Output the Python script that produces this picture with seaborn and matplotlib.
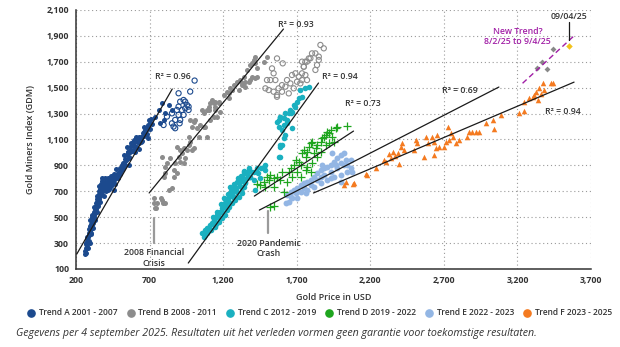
import matplotlib
matplotlib.use("Agg")
import matplotlib.pyplot as plt
import seaborn as sns
from matplotlib.lines import Line2D
from matplotlib.ticker import FuncFormatter

# ---- data: gold price (USD) vs. GDM index ----
trend_a_x = [258, 262, 265, 268, 270, 272, 275, 278, 280, 283, 285, 288, 290, 293, 295, 298, 300, 302, 305, 308,
             310, 312, 315, 318, 320, 322, 325, 328, 330, 333, 335, 338, 340, 343, 345, 348, 350, 353, 355, 358,
             360, 363, 365, 368, 370, 372, 375, 378, 380, 385, 390, 395, 400, 410, 420, 430, 440, 450, 460, 470,
             480, 490, 500, 505, 510, 520, 530, 540, 545, 550, 560, 570, 575, 580, 590, 600, 610, 620, 630, 640,
             650, 655, 660, 670, 680, 690, 700, 710, 690, 600, 560, 520, 470, 440, 410, 416, 427, 450, 472, 484,
             495, 540, 563, 552, 586, 609, 620, 643, 665, 677, 688, 699, 631, 597, 575, 529, 461,
             265, 272, 280, 285, 292, 298, 305, 310, 318, 325, 332, 340, 345, 352, 358, 365, 372, 380, 388, 395,
             405, 415, 425, 435, 445, 455, 465, 485, 500, 515, 525, 535, 548, 565, 585, 605, 625, 645, 665, 685,
             705, 715,
             738, 761, 784, 795, 829, 852, 772, 806]
trend_a_y = [215, 240, 260, 225, 290, 310, 270, 330, 300, 350, 380, 320, 360, 410, 390, 430, 370, 450, 420, 470,
             440, 500, 480, 455, 520, 540, 500, 560, 530, 580, 610, 560, 600, 640, 620, 590, 660, 700, 640, 680,
             720, 660, 700, 740, 690, 760, 720, 780, 740, 700, 760, 730, 770, 750, 780, 760, 790, 800, 790, 810,
             830, 850, 880, 860, 900, 920, 950, 940, 980, 1000, 960, 1020, 1050, 1010, 1060, 1080, 1040, 1100, 1070, 1120,
             1090, 1150, 1130, 1170, 1140, 1190, 1230, 1260, 1110, 1000, 900, 880, 870, 740, 720, 710, 748, 787, 800, 813,
             825, 941, 967, 1005, 1018, 1044, 1083, 1095, 1160, 1186, 1211, 1250, 1121, 1095, 1070, 916, 710,
             300, 350, 260, 410, 300, 480, 380, 520, 420, 580, 480, 660, 540, 600, 740, 620, 680, 800, 660, 800,
             700, 800, 720, 820, 760, 830, 760, 800, 830, 870, 980, 900, 1040, 1000, 1080, 1120, 1030, 1080, 1200, 1180,
             1180, 1220,
             1277, 1328, 1380, 1251, 1367, 1328, 1225, 1302]

trend_a2_x = [795, 818, 852, 863, 874, 874, 886, 897, 897, 908, 920, 931, 931, 942, 954, 965, 965, 897, 976,
              852, 908, 942, 1006, 904]
trend_a2_y = [1212, 1277, 1302, 1200, 1187, 1251, 1328, 1290, 1354, 1392, 1328, 1405, 1290, 1341, 1367, 1328, 1354,
              1457, 1470, 1225, 1251, 1392, 1555, 1225]

trend_b_x = [738, 750, 784, 806, 727, 733, 745, 790, 779,
             829, 852, 795, 806, 818, 840, 863, 874, 897, 908, 920, 931, 942, 931, 886, 954, 976, 988, 965, 988,
             999, 1011, 976, 1022, 1056, 1067, 1090, 1101, 1113, 1124, 1135, 1147, 1170, 1181, 1158, 1113, 1147,
             1204, 1226, 1249, 1272, 1294, 1317, 1328, 1340, 1362, 1385, 1408, 1419, 1431, 1396, 1374, 1419, 1351,
             1238, 1260, 1045, 1067, 908, 784, 806, 863, 886, 965, 1033, 999,
             1419, 1396, 1430, 1385, 1350, 1328, 1305, 1260, 1237, 1169, 1146, 1101, 1135, 1078, 1090, 1495, 1480]
trend_b_y = [569, 608, 633, 608, 646, 607, 568, 607, 645,
             711, 723, 813, 891, 916, 955, 865, 916, 968, 929, 994, 916, 955, 1032, 1045, 1019, 1084, 1019, 1122, 1200,
             1238, 1251, 1251, 1187, 1328, 1302, 1328, 1354, 1380, 1405, 1380, 1392, 1392, 1315, 1277, 1251, 1328,
             1444, 1470, 1495, 1521, 1547, 1560, 1521, 1585, 1637, 1675, 1714, 1688, 1650, 1585, 1547, 1573, 1547,
             1418, 1482, 1212, 1200, 1019, 968, 839, 813, 839, 1058, 1122, 1032,
             1739, 1688, 1585, 1559, 1508, 1533, 1482, 1482, 1456, 1379, 1353, 1327, 1276, 1199, 1122, 1740, 1700]

trend_b2_x = [1566, 1605, 1532, 1543, 1498, 1521, 1555, 1487, 1509, 1543, 1566, 1600, 1623, 1634, 1657, 1668,
              1691, 1714, 1736, 1748, 1759, 1782, 1804, 1702, 1680, 1646, 1600, 1725, 1770, 1566, 1577, 1736,
              1861, 1884, 1827, 1850, 1838, 1827, 1850, 1748, 1770, 1793, 1759, 1736]
trend_b2_y = [1726, 1688, 1649, 1611, 1559, 1559, 1559, 1495, 1482, 1469, 1443, 1469, 1508, 1559, 1533, 1598,
              1611, 1585, 1611, 1662, 1701, 1726, 1765, 1546, 1495, 1456, 1520, 1533, 1559, 1430, 1495, 1701,
              1830, 1804, 1765, 1714, 1675, 1637, 1740, 1662, 1701, 1727, 1598, 1559]

trend_c_x = [1055, 1078, 1101, 1067, 1124, 1135, 1146, 1169, 1180, 1192, 1203, 1214, 1226, 1237, 1248, 1260,
             1271, 1282, 1305, 1316, 1328, 1350, 1373, 1407, 1430, 1475, 1487, 1226, 1237, 1260, 1282, 1305,
             1328, 1339, 1350, 1146, 1169, 1192, 1214, 1112, 1089, 1158, 1203, 1248, 1294, 1362, 1385, 1271, 1294,
             1340, 1374, 1408, 1419, 1385, 1453, 1487, 1351, 1328,
             1075, 1090, 1110, 1120, 1130, 1150, 1160, 1175, 1185, 1195, 1210, 1220, 1230, 1240, 1255, 1265, 1275,
             1290, 1300, 1315, 1320, 1335, 1345, 1360, 1395, 1440, 1460,
             1578, 1589, 1600, 1612, 1578, 1589, 1612, 1623, 1646, 1657, 1668, 1680, 1691, 1634, 1612, 1600, 1702,
             1714, 1736, 1725, 1759, 1782, 1578, 1566, 1623, 1589, 1658, 1635, 1669, 1589, 1589]
trend_c_y = [375, 401, 414, 350, 453, 478, 491, 530, 543, 568, 581, 607, 633, 659, 671, 697,
             710, 736, 761, 787, 813, 839, 864, 852, 877, 890, 864, 556, 581, 607, 633, 659,
             684, 736, 774, 427, 466, 491, 517, 401, 375, 543, 646, 736, 774, 800, 813, 646, 697,
             851, 877, 787, 709, 812, 800, 902, 761, 722,
             360, 420, 440, 400, 500, 450, 520, 500, 600, 540, 640, 580, 680, 620, 700, 660, 760,
             720, 800, 740, 820, 780, 860, 830, 850, 840, 880,
             967, 1044, 1057, 1109, 1250, 1276, 1263, 1302, 1302, 1327, 1314, 1366, 1353, 1250, 1212, 1173, 1392,
             1418, 1430, 1482, 1495, 1508, 1199, 1237, 1135, 1276, 1301, 1224, 1186, 1057, 967]

trend_d_x = [1521, 1544, 1499, 1521, 1544, 1567, 1589, 1476, 1453, 1487, 1544, 1612, 1601, 1646, 1658, 1680,
             1692, 1714, 1737, 1748, 1760, 1771, 1782, 1794, 1805, 1816, 1828, 1839, 1862, 1873, 1885, 1896,
             1907, 1919, 1930, 1941, 1964, 1975, 2043, 1953, 1805, 1839, 1771, 1726, 1703, 1669, 1726, 1760,
             1794, 1862, 1896, 1919, 1635, 1430, 1510]
trend_d_y = [581, 586, 812, 825, 800, 812, 787, 774, 748, 735, 735, 697, 851, 851, 877, 902,
             941, 928, 993, 1018, 967, 1005, 1044, 1070, 1083, 993, 1031, 1057, 1083, 1108, 1121, 1134,
             1160, 1147, 1173, 1121, 1185, 1198, 1204, 1083, 915, 967, 889, 902, 851, 812, 812, 864,
             851, 1005, 1057, 1070, 774, 760, 790]

trend_e_x = [1635, 1658, 1680, 1703, 1726, 1748, 1771, 1794, 1816, 1839, 1862, 1885, 1907, 1930, 1953, 1975,
             1998, 2021, 1726, 1771, 1816, 1862, 1907, 1953, 1998, 2043, 2066, 2021, 1975, 1930, 1885, 1839,
             1794, 1748, 1692, 1658, 1646, 1669, 1930, 1998, 2043, 2077, 1873, 1941, 1964, 2032, 2066, 1862, 1998,
             1625, 1700, 1760]
trend_e_y = [671, 697, 709, 722, 748, 761, 774, 787, 812, 838, 864, 877, 890, 902, 928, 954,
             980, 993, 697, 709, 735, 761, 787, 812, 825, 851, 877, 902, 877, 851, 825, 787,
             748, 722, 684, 658, 620, 645, 800, 915, 902, 851, 902, 993, 902, 941, 941, 812, 774,
             610, 650, 690]

trend_f_x = [2021, 2032, 2084, 2168, 2180, 2236, 2293, 2310, 2330, 2340, 2355, 2370, 2385, 2395, 2407, 2418,
             2430, 2497, 2508, 2520, 2566, 2578, 2590, 2622, 2634, 2634, 2645, 2656, 2668, 2702, 2713, 2725,
             2736, 2748, 2760, 2780, 2803, 2860, 2871, 2894, 2917, 2940, 2985, 3031, 3042, 3088, 3213, 3247,
             3247, 3280, 3303, 3314, 3326, 3337, 3348, 3360, 3371, 3382, 3428, 3441, 2089]
trend_f_y = [749, 775, 757, 834, 826, 878, 941, 930, 985, 960, 1006, 975, 998, 910, 1045, 1070,
             1019, 1019, 1096, 1070, 967, 1122, 1070, 1122, 1084, 980, 1032, 1135, 1045, 1045, 1084, 1199,
             1096, 1148, 1122, 1071, 1097, 1123, 1161, 1161, 1161, 1161, 1225, 1250, 1178, 1289, 1302, 1392,
             1320, 1418, 1430, 1444, 1470, 1405, 1495, 1455, 1534, 1480, 1534, 1536, 761]

new_trend_x = [3439, 3364, 3330, 3398]
new_trend_y = [1796, 1698, 1650, 1642]
latest_x = [3552]
latest_y = [1822]

# fitted trend lines (start and end points) with their R² labels
fit_lines = {
    "A": ([205, 854], [215, 1490]),
    "B": ([697, 1610], [687, 1953]),
    "C": ([963, 1848], [146, 1536]),
    "D": ([1412, 2086], [663, 1165]),
    "E": ([1446, 3074], [555, 1505]),
    "F": ([1814, 3585], [687, 1543]),
}
r2_labels = ["R² = 0.96", "R² = 0.93", "R² = 0.94", "R² = 0.73", "R² = 0.69", "R² = 0.94"]
r2_pos_x = [855, 1695, 1990, 2150, 2810, 3510]
r2_pos_y = [1590, 1990, 1590, 1380, 1475, 1320]
new_trend_line_x = [3235, 3591]
new_trend_line_y = [1534, 1907]

x_ticks = [200, 700, 1200, 1700, 2200, 2700, 3200, 3700]
y_ticks = [100, 300, 500, 700, 900, 1100, 1300, 1500, 1700, 1900, 2100]

legend_labels = ["Trend A 2001 - 2007", "Trend B 2008 - 2011", "Trend C 2012 - 2019",
                 "Trend D 2019 - 2022", "Trend E 2022 - 2023", "Trend F 2023 - 2025"]

# ---- styling ----
NAVY = "#1c4a8e"
GRAY = "#8c8c8c"
TEAL = "#1ab0c0"
GREEN = "#1ea51e"
LBLUE = "#93b6e4"
ORANGE = "#f47a20"
PURPLE = "#a11fa6"
YELLOW = "#f2c21b"
TXT = "#333333"

sns.set_theme(style="white")
plt.rcParams["font.family"] = ["Open Sans", "DejaVu Sans"]

fig = plt.figure(figsize=(6.2, 3.47), dpi=100)
ax = fig.add_axes([0.1226, 0.2248, 0.8306, 0.7464])

ms = 13
sns.scatterplot(x=trend_a_x, y=trend_a_y, color=NAVY, s=ms, linewidth=0, ax=ax, zorder=3)
sns.scatterplot(x=trend_a2_x, y=trend_a2_y, marker="o", s=14, facecolors="none", edgecolors=NAVY,
                linewidth=0.8, ax=ax, zorder=3)
sns.scatterplot(x=trend_b_x, y=trend_b_y, color=GRAY, s=ms, linewidth=0, ax=ax, zorder=3)
sns.scatterplot(x=trend_b2_x, y=trend_b2_y, marker="o", s=14, facecolors="none", edgecolors=GRAY,
                linewidth=0.8, ax=ax, zorder=3)
sns.scatterplot(x=trend_c_x, y=trend_c_y, color=TEAL, s=ms + 3, linewidth=0, ax=ax, zorder=3)
sns.scatterplot(x=trend_e_x, y=trend_e_y, color=LBLUE, s=ms + 5, linewidth=0, ax=ax, zorder=3)
sns.scatterplot(x=trend_d_x, y=trend_d_y, color=GREEN, marker="+", s=30, linewidth=0.9, ax=ax, zorder=4)
sns.scatterplot(x=trend_f_x, y=trend_f_y, color=ORANGE, marker="^", s=16, linewidth=0, ax=ax, zorder=3)
sns.scatterplot(x=new_trend_x, y=new_trend_y, color="#888888", marker="D", s=9, linewidth=0, ax=ax, zorder=4)
sns.scatterplot(x=latest_x, y=latest_y, color=YELLOW, marker="D", s=11, linewidth=0, ax=ax, zorder=4)

for (lx, ly) in fit_lines.values():
    sns.lineplot(x=lx, y=ly, color="#1a1a1a", linewidth=0.9, ax=ax, zorder=5)
sns.lineplot(x=new_trend_line_x, y=new_trend_line_y, color=PURPLE, linewidth=1.0, ax=ax, zorder=5,
             linestyle=(0, (4, 2.5)))

for lab, tx, ty in zip(r2_labels, r2_pos_x, r2_pos_y):
    ax.text(tx, ty, lab, fontsize=6.3, fontweight="semibold", color=TXT, ha="center", va="center", zorder=6)

# annotations
ax.plot([731, 731], [300, 494], color="#9a9a9a", linewidth=1.6, zorder=2)
ax.text(731, 185, "2008 Financial\nCrisis", fontsize=6.3, fontweight="semibold", color=TXT,
        ha="center", va="center", linespacing=1.15)
ax.plot([1508, 1508], [378, 545], color="#9a9a9a", linewidth=1.6, zorder=2)
ax.text(1508, 255, "2020 Pandemic\nCrash", fontsize=6.3, fontweight="semibold", color=TXT,
        ha="center", va="center", linespacing=1.15)
ax.plot([3552, 3552], [1870, 2010], color="#1a1a1a", linewidth=0.9, zorder=5)
ax.text(3552, 2050, "09/04/25", fontsize=6.3, fontweight="semibold", color=TXT, ha="center", va="center")
ax.text(3200, 1895, "New Trend?\n8/2/25 to 9/4/25", fontsize=6.3, fontweight="semibold", color=PURPLE,
        ha="center", va="center", linespacing=1.15)

# axes
ax.set_xlim(200, 3700)
ax.set_ylim(100, 2100)
ax.set_xticks(x_ticks)
ax.set_yticks(y_ticks)
ax.xaxis.set_major_formatter(FuncFormatter(lambda v, p: f"{int(v):,}"))
ax.yaxis.set_major_formatter(FuncFormatter(lambda v, p: f"{int(v):,}"))
ax.tick_params(length=0, labelsize=6.3, labelcolor=TXT, pad=5)
for lab in ax.get_xticklabels() + ax.get_yticklabels():
    lab.set_fontweight("bold")
ax.grid(True, linestyle=(0, (1, 2.5)), color="#9a9a9a", linewidth=0.8)
for side in ["top", "right"]:
    ax.spines[side].set_visible(False)
for side in ["left", "bottom"]:
    ax.spines[side].set_color("#333333")
    ax.spines[side].set_linewidth(1.1)
ax.set_xlabel("Gold Price in USD", fontsize=6.5, fontweight="semibold", color=TXT, labelpad=6)
ax.set_ylabel("Gold Miners Index (GDM)", fontsize=6.5, fontweight="semibold", color=TXT, labelpad=8)

colors = [NAVY, GRAY, TEAL, GREEN, LBLUE, ORANGE]
handles = [Line2D([], [], marker="o", linestyle="none", markersize=5.2, markerfacecolor=c,
                  markeredgecolor=c) for c in colors]
leg = fig.legend(handles, legend_labels, loc="center left", bbox_to_anchor=(0.045, 0.098), ncol=6,
                 frameon=False, fontsize=6.0, handletextpad=0.5, columnspacing=1.2, handlelength=0.8,
                 borderpad=0, borderaxespad=0)
for t in leg.get_texts():
    t.set_fontweight("semibold")
    t.set_color(TXT)

fig.text(0.026, 0.04, "Gegevens per 4 september 2025. Resultaten uit het verleden vormen geen garantie "
         "voor toekomstige resultaten.", fontsize=7.7, style="italic", color=TXT, ha="left", va="center")

fig.savefig("out.png", dpi=100)
